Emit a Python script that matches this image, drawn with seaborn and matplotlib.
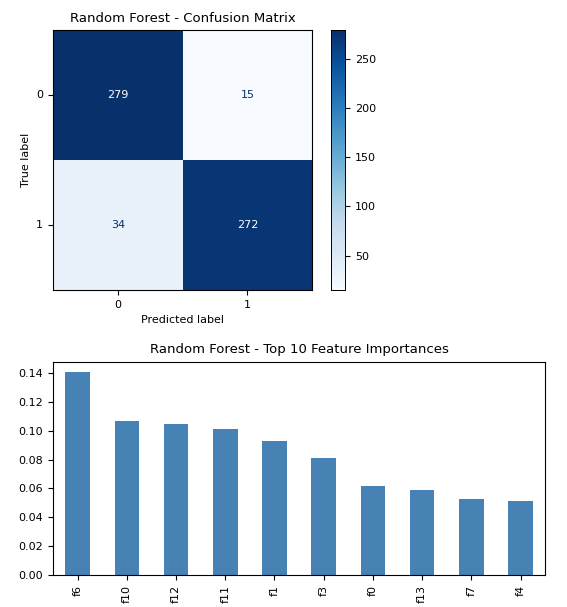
import matplotlib
matplotlib.use("Agg")
import matplotlib.pyplot as plt
import seaborn as sns
import numpy as np
import pandas as pd

cm_labels = ["0", "1"]
cm_values = [[279, 15], [34, 272]]
features = ["f6", "f10", "f12", "f11", "f1", "f3", "f0", "f13", "f7", "f4"]
importances = [0.141, 0.107, 0.105, 0.101, 0.093, 0.081, 0.062, 0.059, 0.053, 0.051]

fig = plt.figure(figsize=(5.67, 6.07), dpi=100)
ax1 = fig.add_axes([0.0935, 0.522, 0.457, 0.428])
cax = fig.add_axes([0.584, 0.522, 0.025, 0.428])
ax2 = fig.add_axes([0.0935, 0.053, 0.868, 0.351])

cm = np.array(cm_values)
thresh = (cm.max() + cm.min()) / 2
annot_colors = [["white" if v > thresh else "#08306b" for v in row] for row in cm_values]
sns.heatmap(cm, ax=ax1, cmap="Blues", cbar_ax=cax, annot=False,
            xticklabels=cm_labels, yticklabels=cm_labels, square=False)
for i in range(2):
    for j in range(2):
        ax1.text(j + 0.5, i + 0.5, str(cm[i, j]), ha="center", va="center",
                 color=annot_colors[i][j], fontsize=8)
for s in ax1.spines.values():
    s.set_visible(True)
    s.set_linewidth(0.8)
ax1.set_yticklabels(cm_labels, rotation=0, fontsize=8)
ax1.set_xticklabels(cm_labels, fontsize=8)
ax1.set_xlabel("Predicted label", fontsize=8)
ax1.set_ylabel("True label", fontsize=8)
ax1.set_title("Random Forest - Confusion Matrix", fontsize=9.5)
cax.tick_params(labelsize=8)
cax.set_yticks([50, 100, 150, 200, 250])
for s in cax.spines.values():
    s.set_visible(True)
    s.set_linewidth(0.6)

df = pd.DataFrame({"feature": features, "importance": importances})
sns.barplot(data=df, x="feature", y="importance", ax=ax2, color="steelblue",
            saturation=1, width=0.5)
ax2.set_xlabel("")
ax2.set_ylabel("")
ax2.set_title("Random Forest - Top 10 Feature Importances", fontsize=9.5)
ax2.tick_params(axis="x", rotation=90, labelsize=8)
ax2.tick_params(axis="y", labelsize=8)
ax2.set_yticks(np.arange(0, 0.15, 0.02))
ax2.set_ylim(0, 0.148)
ax2.set_xlim(-0.5, 9.5)

fig.savefig("out.png", dpi=100)
